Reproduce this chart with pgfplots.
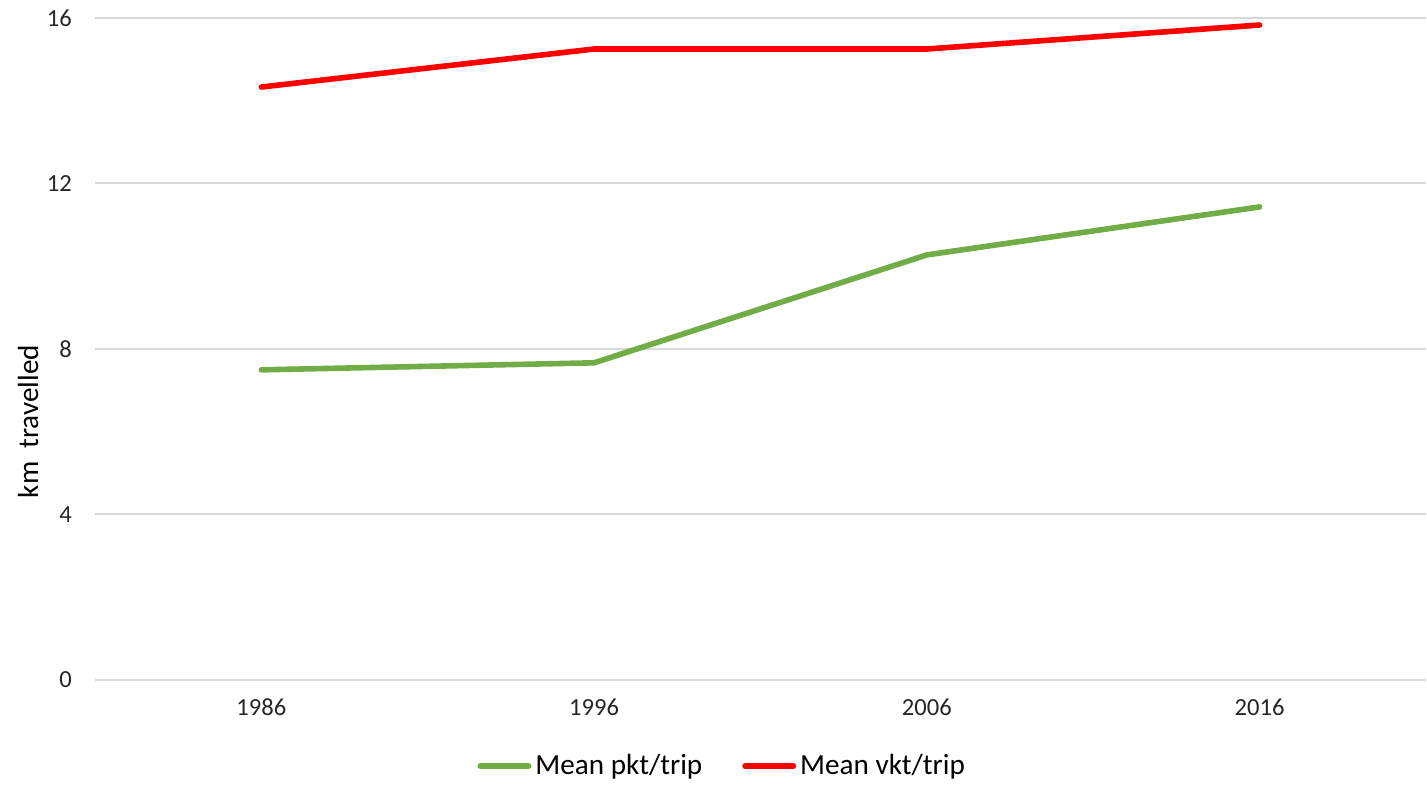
\documentclass[border=0pt]{standalone}
\usepackage{pgfplots}
\pgfplotsset{compat=1.18}
\usepackage{fontspec}
\setmainfont{Carlito}
\usetikzlibrary{calc}

\definecolor{pktgreen}{RGB}{112,173,71}
\definecolor{vktred}{RGB}{255,0,0}
\definecolor{gridgray}{RGB}{217,217,217}

\begin{document}
\begin{tikzpicture}
\begin{axis}[
  width=666pt, height=331pt,
  scale only axis,
  xmin=-0.5, xmax=3.5,
  ymin=0, ymax=16,
  xtick={0,1,2,3},
  xticklabels={1986,1996,2006,2016},
  ytick={0,4,8,12,16},
  axis line style={draw=none},
  major tick length=0pt,
  ymajorgrids,
  grid style={gridgray, line width=1pt},
  tick label style={font=\fontsize{12.3}{14}\selectfont, text=black!85},
  /pgf/number format/assume math mode=true,
  yticklabel style={xshift=-8pt},
  xticklabel style={yshift=-6pt},
  ylabel={km\ \ travelled},
  ylabel style={at={(axis description cs:-0.0503,0.39)}, anchor=center, font=\fontsize{14.6}{16}\selectfont},
  legend style={
    at={(axis description cs:0.472,-0.131)}, anchor=center,
    draw=none, fill=none,
    font=\fontsize{14.6}{16}\selectfont,
    legend columns=2,
    /tikz/every even column/.append style={column sep=18pt},
  },
  legend image code/.code={
    \draw[#1, line cap=round] (0cm,0cm) -- (0.85cm,0cm);
  },
  clip=false,
]
% mean passenger-km per trip
\addplot[pktgreen, line width=2.8pt, line cap=round, line join=round] coordinates {
  (0,7.49) (1,7.66) (2,10.27) (3,11.43)
};
\addlegendentry{Mean pkt/trip}
% mean vehicle-km per trip
\addplot[vktred, line width=2.8pt, line cap=round, line join=round] coordinates {
  (0,14.33) (1,15.25) (2,15.25) (3,15.83)
};
\addlegendentry{Mean vkt/trip}
\coordinate (BL) at (rel axis cs:0,0);
\coordinate (TR) at (rel axis cs:1,1);
\end{axis}
\path ($(BL)+(-47.5pt,-51.5pt)$) rectangle ($(TR)+(0,9pt)$);
\end{tikzpicture}
\end{document}
